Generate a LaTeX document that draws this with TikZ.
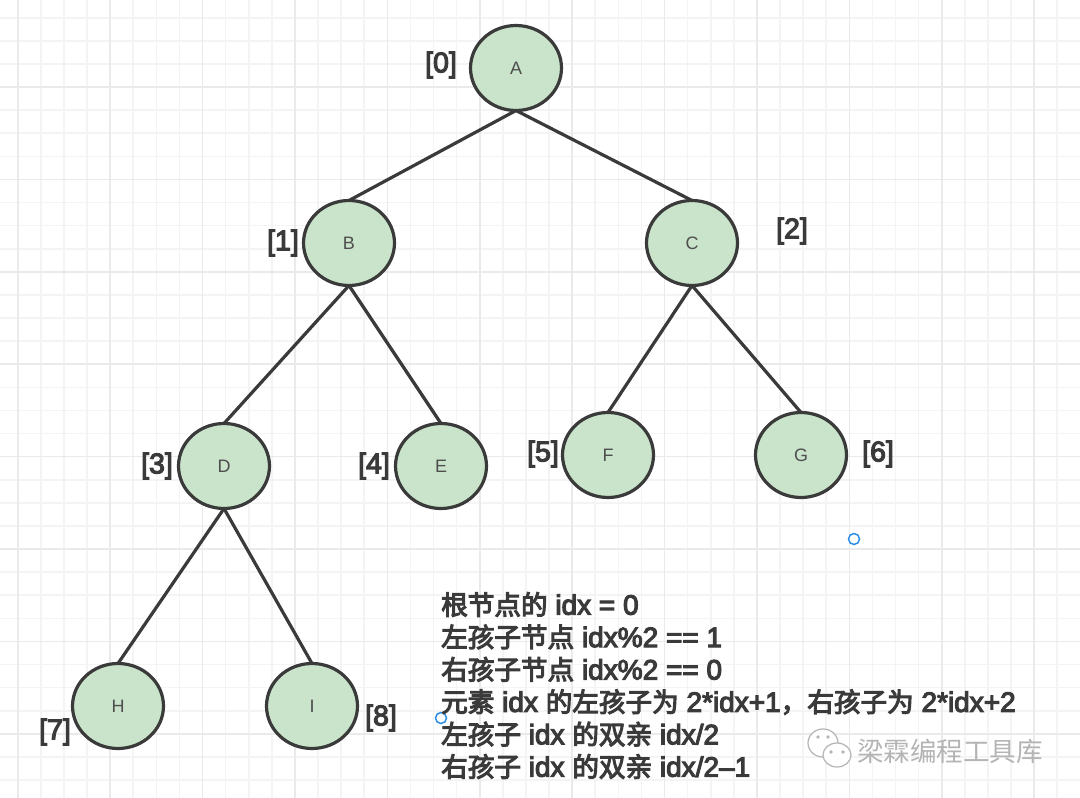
\documentclass[tikz,border=0pt]{standalone}
\usepackage{fontspec}
\setmainfont{Liberation Sans}
\newfontfamily\latnmed[FakeBold=4]{Liberation Sans}
\newfontfamily\cjkmed[FakeBold=4]{Noto Sans CJK SC}
\newfontfamily\cjk{Noto Sans CJK SC}
\usetikzlibrary{positioning,shapes.geometric}
\definecolor{inkgray}{HTML}{3A3A3A}
\definecolor{leafgreen}{HTML}{C9E4CA}
\definecolor{gridminor}{HTML}{F4F4F4}
\definecolor{gridmajor}{HTML}{EAEAEA}
\definecolor{markblue}{HTML}{2B8FE8}
\definecolor{wmgray}{HTML}{B4B4B4}
\newcommand{\zh}[1]{{\cjkmed\fontsize{26.6}{32.4}\selectfont #1}}

\begin{document}
\begin{tikzpicture}[
      x=1pt,y=-1pt,
      treenode/.style={
         ellipse,
         draw=inkgray,
         fill=leafgreen,
         line width=3.2pt,
         outer sep=0pt,
         inner sep=0pt,
         minimum width=91pt,
         minimum height=85pt,
         text=inkgray!90,
         font=\fontsize{18}{20}\selectfont},
      idxlabel/.style={
         inner sep=0pt,
         text=inkgray,
         font=\latnmed\fontsize{28.5}{30}\selectfont},
      treeedge/.style={draw=inkgray,line width=3.2pt},
      handle/.style={
         circle,
         draw=markblue,
         fill=white,
         line width=1.5pt,
         inner sep=0pt,
         minimum size=11pt}
      ]
\useasboundingbox (0,0) rectangle (1080,798);
\fill[white] (0,0) rectangle (1080,798);

% grid
\foreach \k in {0,...,47}
   \draw[gridminor,line width=1.6pt] ({17.7+23.1*(\k-1)},0) -- ++(0,798);
\foreach \k in {0,...,35}
   \draw[gridminor,line width=1.6pt] (0,{17.7+23.1*(\k-1)}) -- ++(1080,0);
\foreach \k in {0,...,11}
   \draw[gridmajor,line width=1.6pt] ({17.7+92.4*\k},0) -- ++(0,798);
\foreach \k in {0,...,8}
   \draw[gridmajor,line width=1.6pt] (0,{87+92.4*\k}) -- ++(1080,0);

\node[treenode] (a) at (516,68)  {A};
\node[treenode] (b) at (349,243) {B};
\node[treenode] (c) at (692,243) {C};
\node[treenode] (d) at (224,466) {D};
\node[treenode] (e) at (441,466) {E};
\node[treenode] (f) at (608,455) {F};
\node[treenode] (g) at (801,455) {G};
\node[treenode] (h) at (118,706) {H};
\node[treenode] (i) at (312,706) {I};

\foreach \i/\j in {% start node/end node
      a/b, a/c,
      b/d, b/e,
      c/f, c/g,
      d/h, d/i}
       \draw[treeedge] (\i.south) -- (\j.north);

\node[idxlabel] (l0) at (441,65)  {[0]};
\node[idxlabel] (l1) at (283,243) {[1]};
\node[idxlabel] (l2) at (792,231) {[2]};
\node[idxlabel] (l3) at (157,466) {[3]};
\node[idxlabel] (l4) at (374,466) {[4]};
\node[idxlabel] (l5) at (543,454) {[5]};
\node[idxlabel] (l6) at (878,454) {[6]};
\node[idxlabel] (l7) at (55,732)  {[7]};
\node[idxlabel] (l8) at (381,718) {[8]};

\node[handle] (m1) at (854,539) {};
\node[handle] (m2) at (441,718) {};

\node[anchor=north west,align=left,inner sep=0pt,text=inkgray,
      font=\latnmed\fontsize{28}{32.4}\selectfont] (rules) at (441,592) {%
   \zh{根节点的} idx = 0\\
   \zh{左孩子节点} idx\%2 == 1\\
   \zh{右孩子节点} idx\%2 == 0\\
   \zh{元素} idx \zh{的左孩子为} 2*idx+1\zh{，右孩子为} 2*idx+2\\
   \zh{左孩子} idx \zh{的双亲} idx/2\\
   \zh{右孩子} idx \zh{的双亲} idx/2–1};

% watermark
\draw[wmgray,fill=white,line width=1.2pt] (823,743) ellipse (15pt and 14pt);
\draw[wmgray,fill=white,line width=1.2pt] (837,755) ellipse (14pt and 12pt);
\foreach \x/\y in {818/737,828/737,831/752,843/752}
   \fill[wmgray] (\x,\y) circle (1.8pt);
\node[anchor=west,inner sep=0pt,text=wmgray] (mark) at (857,751)
   {\cjk\fontsize{26.5}{30}\selectfont 梁霖编程工具库};
\end{tikzpicture}
\end{document}
